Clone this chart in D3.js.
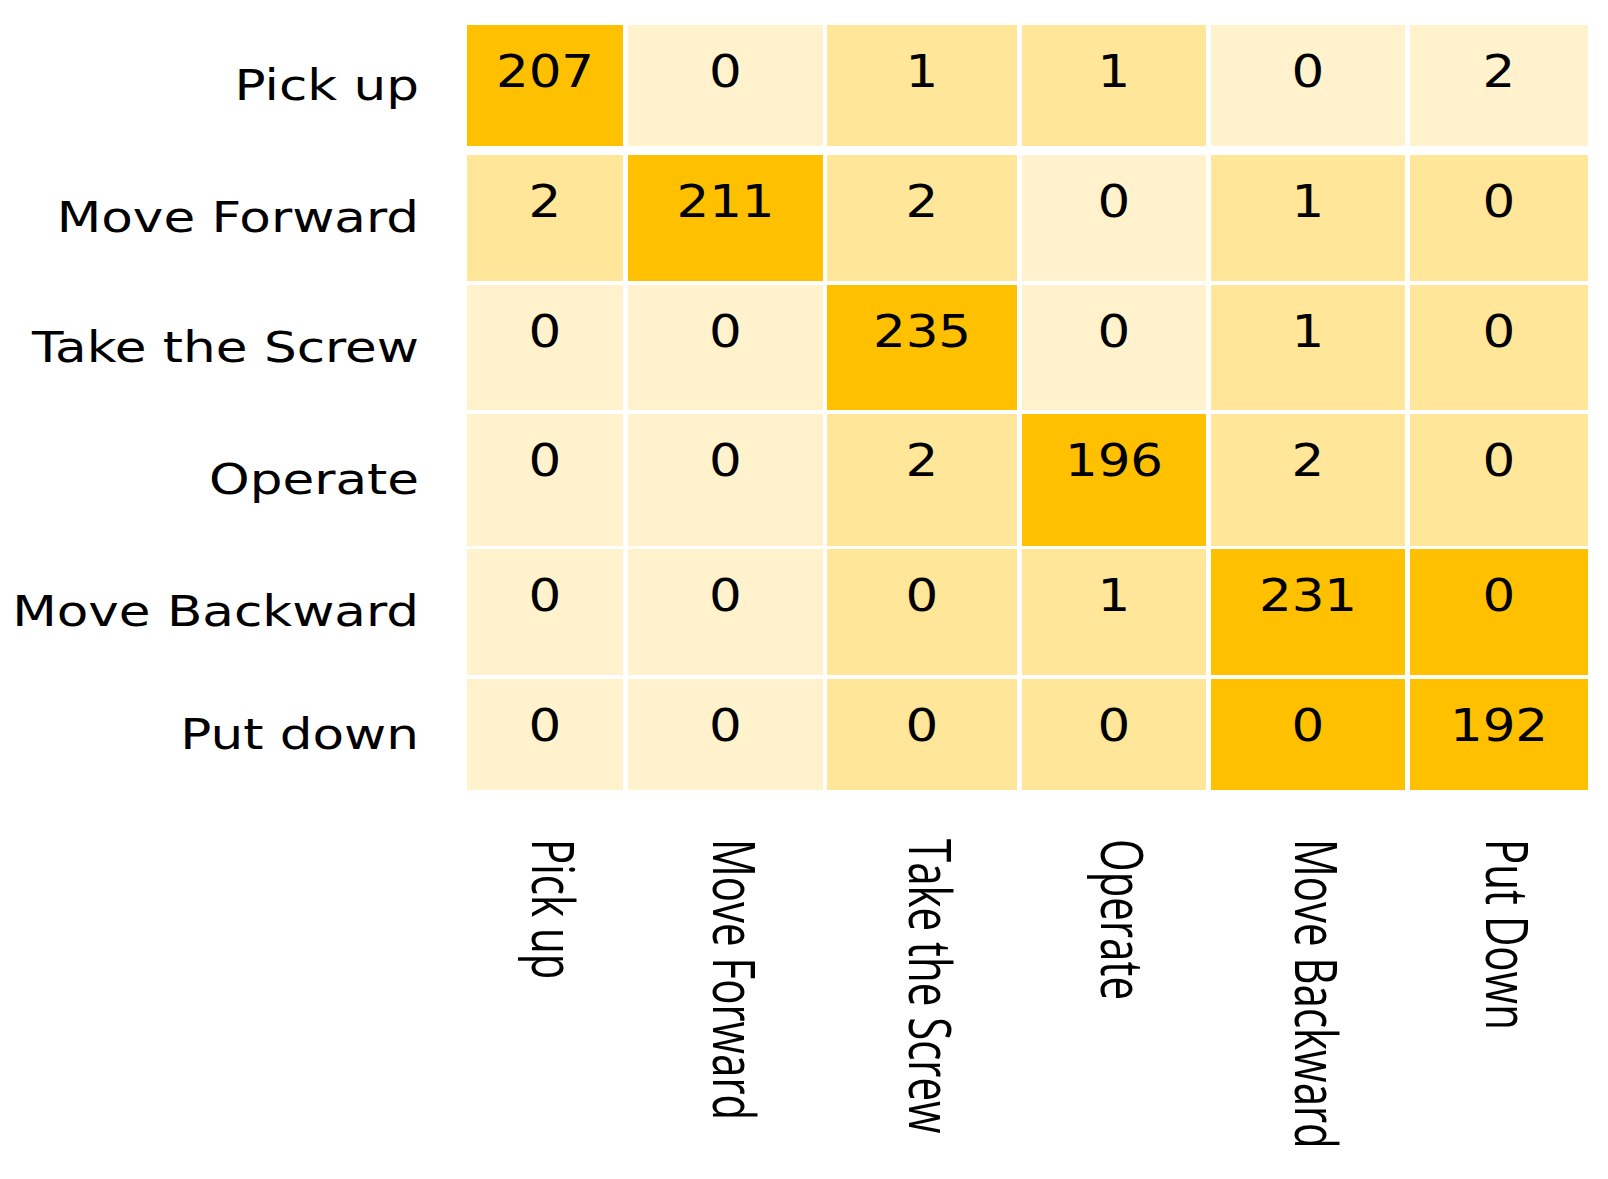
<!DOCTYPE html>
<html>
<head>
<meta charset="utf-8">
<script src="https://cdn.jsdelivr.net/npm/d3@7"></script>
<style>
  html, body { margin: 0; padding: 0; background: #fff; }
</style>
</head>
<body>
<svg id="chart"></svg>
<script>
// ---------------------------------------------------------------------------
// Data
// ---------------------------------------------------------------------------

const rowLabels = ["Pick up", "Move Forward", "Take the Screw", "Operate", "Move Backward", "Put down"];
const colLabels = ["Pick up", "Move Forward", "Take the Screw", "Operate", "Move Backward", "Put Down"];

const counts = [
  [207, 0, 1, 1, 0, 2],
  [2, 211, 2, 0, 1, 0],
  [0, 0, 235, 0, 1, 0],
  [0, 0, 2, 196, 2, 0],
  [0, 0, 0, 1, 231, 0],
  [0, 0, 0, 0, 0, 192],
];

// Shade class of each cell as painted in the figure (0 light, 1 mid, 2 strong).
const shadeLevel = [
  [2, 0, 1, 1, 0, 0],
  [1, 2, 1, 0, 1, 1],
  [0, 0, 2, 0, 1, 1],
  [0, 0, 1, 2, 1, 1],
  [0, 0, 1, 1, 2, 2],
  [0, 0, 1, 1, 2, 2],
];

// ---------------------------------------------------------------------------
// Layout — the grid in the figure has uneven bands, so edges are explicit
// ---------------------------------------------------------------------------

const W = 1608, H = 1179;
const colEdges = [[467, 623], [628, 823], [827, 1017], [1022, 1206], [1211, 1405], [1410, 1588]];
const rowEdges = [[25, 146], [155, 281], [285, 410], [414, 546], [549, 675], [679, 790]];

const xStart = d3.scaleOrdinal(colLabels, colEdges.map((e) => e[0]));
const xEnd = d3.scaleOrdinal(colLabels, colEdges.map((e) => e[1]));
const yStart = d3.scaleOrdinal(rowLabels, rowEdges.map((e) => e[0]));
const yEnd = d3.scaleOrdinal(rowLabels, rowEdges.map((e) => e[1]));
const color = d3.scaleOrdinal([0, 1, 2], ["#FFF2CC", "#FFE699", "#FFC000"]);

const svg = d3.select("#chart").attr("width", W).attr("height", H);
svg.append("rect").attr("width", W).attr("height", H).attr("fill", "#fff");

const cells = rowLabels.flatMap((r, i) =>
  colLabels.map((c, j) => ({ r, c, v: counts[i][j], s: shadeLevel[i][j] }))
);

// Cells.
svg.append("g")
  .selectAll("rect")
  .data(cells)
  .join("rect")
  .attr("x", (d) => xStart(d.c))
  .attr("y", (d) => yStart(d.r))
  .attr("width", (d) => xEnd(d.c) - xStart(d.c))
  .attr("height", (d) => yEnd(d.r) - yStart(d.r))
  .attr("fill", (d) => color(d.s));

// Counts, sitting in the upper part of each cell.
svg.append("g")
  .selectAll("text")
  .data(cells)
  .join("text")
  .attr("transform", (d) => `translate(${(xStart(d.c) + xEnd(d.c)) / 2},${yStart(d.r) + 62}) scale(1.17,1)`)
  .attr("text-anchor", "middle")
  .attr("font-family", "'DejaVu Sans', Verdana, sans-serif")
  .attr("font-size", 44)
  .attr("fill", "#000")
  .text((d) => d.v);

// Row labels.
svg.append("g")
  .selectAll("text")
  .data(rowLabels)
  .join("text")
  .attr("transform", (d) => `translate(419,${(yStart(d) + yEnd(d)) / 2 + 14}) scale(1.2,1)`)
  .attr("text-anchor", "end")
  .attr("font-family", "'DejaVu Sans', Verdana, sans-serif")
  .attr("font-size", 43)
  .attr("fill", "#000")
  .text((d) => d);

// Column labels, rotated to read top to bottom.
svg.append("g")
  .selectAll("text")
  .data(colLabels)
  .join("text")
  .attr("transform", (d) => `translate(${(xStart(d) + xEnd(d)) / 2 - 13},839) rotate(90) scale(1,1.4)`)
  .attr("text-anchor", "start")
  .attr("font-family", "'Open Sans', sans-serif")
  .attr("font-size", 42)
  .attr("fill", "#000")
  .text((d) => d);
</script>
</body>
</html>
